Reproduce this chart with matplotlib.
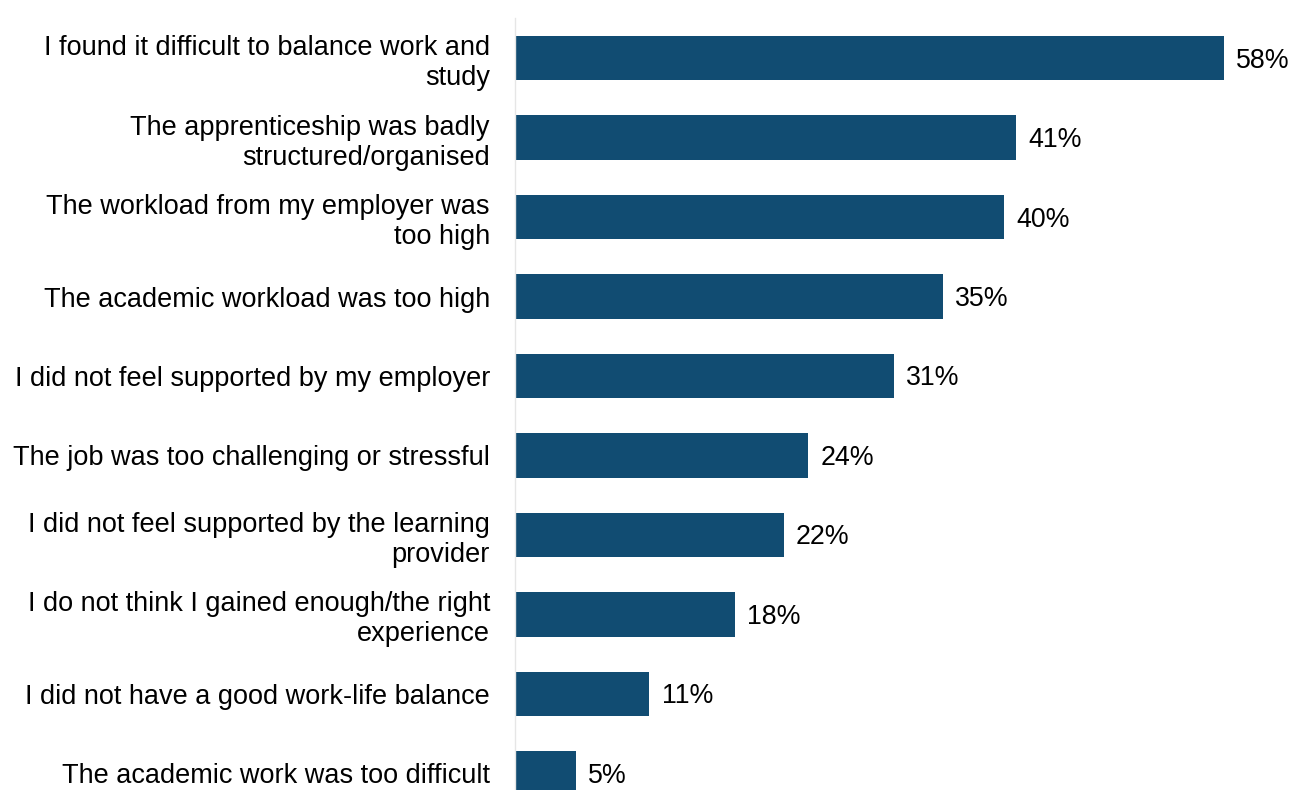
import matplotlib
matplotlib.use("Agg")
import matplotlib.pyplot as plt

plt.rcParams['font.family'] = ['Liberation Sans', 'DejaVu Sans']

categories = [
    "I found it difficult to balance work and\nstudy",
    "The apprenticeship was badly\nstructured/organised",
    "The workload from my employer was\ntoo high",
    "The academic workload was too high",
    "I did not feel supported by my employer",
    "The job was too challenging or stressful",
    "I did not feel supported by the learning\nprovider",
    "I do not think I gained enough/the right\nexperience",
    "I did not have a good work-life balance",
    "The academic work was too difficult",
]
values = [58, 41, 40, 35, 31, 24, 22, 18, 11, 5]

bar_color = "#114C72"

fig = plt.figure(figsize=(12.92, 7.90), dpi=100)
# axes spans from just above the first bar down past the bottom edge
ax_left = 515 / 1292
ax_top = 1 - 18.5 / 790
ax_bottom = 1 - 813 / 790
ax = fig.add_axes([ax_left, ax_bottom, 1 - ax_left, ax_top - ax_bottom])

y = list(range(len(values)))
ax.barh(y, values, height=0.56, color=bar_color)
ax.set_ylim(len(values) - 0.5, -0.5)
ax.set_xlim(0, (1292 - 515) / 12.22)

for yi, v in zip(y, values):
    ax.text(v + 1.0, yi + 0.03, f"{v}%", va="center", ha="left",
            fontsize=19.3, color="#000000")

ax.set_yticks(y)
ax.set_yticklabels(categories, fontsize=19.5, linespacing=1.2)
ax.tick_params(axis="y", length=0, pad=18)
ax.set_xticks([])
for s in ["top", "right", "bottom"]:
    ax.spines[s].set_visible(False)
ax.spines["left"].set_color("#e6e6e6")
ax.spines["left"].set_linewidth(1.0)

fig.savefig("out.png", dpi=100)
